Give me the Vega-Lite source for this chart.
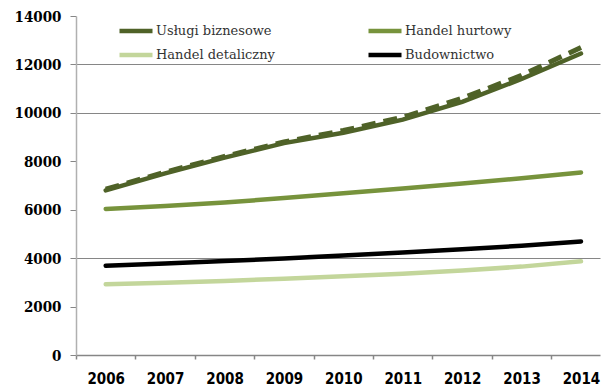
{
  "$schema": "https://vega.github.io/schema/vega-lite/v6.json",
  "width": 524,
  "height": 339,
  "autosize": {"type": "none"},
  "padding": {"left": 76, "top": 16, "right": 8, "bottom": 37},
  "background": "white",
  "config": {"view": {"stroke": null}},
  "data": {
    "values": [
      {"year": 2006, "series": "Usługi biznesowe", "value": 6800},
      {"year": 2007, "series": "Usługi biznesowe", "value": 7500},
      {"year": 2008, "series": "Usługi biznesowe", "value": 8150},
      {"year": 2009, "series": "Usługi biznesowe", "value": 8750},
      {"year": 2010, "series": "Usługi biznesowe", "value": 9180},
      {"year": 2011, "series": "Usługi biznesowe", "value": 9720},
      {"year": 2012, "series": "Usługi biznesowe", "value": 10450},
      {"year": 2013, "series": "Usługi biznesowe", "value": 11400},
      {"year": 2014, "series": "Usługi biznesowe", "value": 12450},
      {"year": 2006, "series": "Handel hurtowy", "value": 6030},
      {"year": 2007, "series": "Handel hurtowy", "value": 6150},
      {"year": 2008, "series": "Handel hurtowy", "value": 6300},
      {"year": 2009, "series": "Handel hurtowy", "value": 6480},
      {"year": 2010, "series": "Handel hurtowy", "value": 6680},
      {"year": 2011, "series": "Handel hurtowy", "value": 6880},
      {"year": 2012, "series": "Handel hurtowy", "value": 7080},
      {"year": 2013, "series": "Handel hurtowy", "value": 7300},
      {"year": 2014, "series": "Handel hurtowy", "value": 7540},
      {"year": 2006, "series": "Handel detaliczny", "value": 2920},
      {"year": 2007, "series": "Handel detaliczny", "value": 2980},
      {"year": 2008, "series": "Handel detaliczny", "value": 3060},
      {"year": 2009, "series": "Handel detaliczny", "value": 3150},
      {"year": 2010, "series": "Handel detaliczny", "value": 3250},
      {"year": 2011, "series": "Handel detaliczny", "value": 3360},
      {"year": 2012, "series": "Handel detaliczny", "value": 3490},
      {"year": 2013, "series": "Handel detaliczny", "value": 3650},
      {"year": 2014, "series": "Handel detaliczny", "value": 3870},
      {"year": 2006, "series": "Budownictwo", "value": 3690},
      {"year": 2007, "series": "Budownictwo", "value": 3780},
      {"year": 2008, "series": "Budownictwo", "value": 3880},
      {"year": 2009, "series": "Budownictwo", "value": 3990},
      {"year": 2010, "series": "Budownictwo", "value": 4110},
      {"year": 2011, "series": "Budownictwo", "value": 4230},
      {"year": 2012, "series": "Budownictwo", "value": 4370},
      {"year": 2013, "series": "Budownictwo", "value": 4510},
      {"year": 2014, "series": "Budownictwo", "value": 4690},
      {"year": 2006, "series": "trend", "value": 6850},
      {"year": 2007, "series": "trend", "value": 7550},
      {"year": 2008, "series": "trend", "value": 8200},
      {"year": 2009, "series": "trend", "value": 8800},
      {"year": 2010, "series": "trend", "value": 9270},
      {"year": 2011, "series": "trend", "value": 9820},
      {"year": 2012, "series": "trend", "value": 10600},
      {"year": 2013, "series": "trend", "value": 11550},
      {"year": 2014, "series": "trend", "value": 12700}
    ]
  },
  "encoding": {
    "x": {
      "field": "year",
      "type": "quantitative",
      "scale": {"domain": [2005.5, 2014.32], "nice": false, "zero": false},
      "axis": {
        "title": null,
        "values": [2005.5, 2006.5, 2007.5, 2008.5, 2009.5, 2010.5, 2011.5, 2012.5, 2013.5],
        "labelExpr": "toString(datum.value + 0.5)",
        "labelOffset": 29.7,
        "labelFlush": false,
        "labelOverlap": false,
        "labelFont": "DejaVu Sans Condensed",
        "labelFontWeight": "bold",
        "labelFontSize": 15,
        "labelColor": "#000000",
        "labelPadding": 12,
        "tickSize": 4,
        "tickColor": "#868686",
        "tickWidth": 1.5,
        "domainColor": "#868686",
        "domainWidth": 1.5,
        "grid": false
      }
    },
    "y": {
      "field": "value",
      "type": "quantitative",
      "scale": {"domain": [0, 14000], "nice": false},
      "axis": {
        "title": null,
        "values": [0, 2000, 4000, 6000, 8000, 10000, 12000, 14000],
        "format": "d",
        "labelFont": "DejaVu Serif Condensed",
        "labelFontWeight": "bold",
        "labelFontSize": 15,
        "labelColor": "#000000",
        "labelPadding": 9,
        "tickSize": 6,
        "tickColor": "#868686",
        "tickWidth": 1,
        "domainColor": "#b0b0b0",
        "domainWidth": 1.5,
        "grid": true,
        "gridColor": "#868686",
        "gridWidth": 1.2,
        "gridOpacity": {"condition": {"test": "datum.value == 4000 || (datum.value >= 10000 && datum.value < 14000)", "value": 1}, "value": 0}
      }
    }
  },
  "layer": [
    {
      "transform": [{"filter": "datum.series == 'trend'"}],
      "mark": {"type": "line", "strokeWidth": 5, "color": "#4F6228"},
      "encoding": {"strokeDash": {"value": [14, 8]}}
    },
    {
      "transform": [{"filter": "datum.series != 'trend'"}],
      "mark": {"type": "line", "strokeWidth": 4.5, "strokeCap": "round"},
      "encoding": {
        "color": {
          "field": "series",
          "type": "nominal",
          "scale": {
            "domain": ["Usługi biznesowe", "Handel hurtowy", "Handel detaliczny", "Budownictwo"],
            "range": ["#4F6228", "#77933C", "#C3D69B", "#000000"]
          },
          "legend": {
            "title": null,
            "orient": "none",
            "legendX": 41,
            "legendY": 7,
            "padding": 0,
            "direction": "horizontal",
            "columns": 2,
            "symbolType": "M-1,0H5",
            "symbolSize": 121,
            "symbolStrokeWidth": 4.5,
            "labelFont": "DejaVu Serif",
            "labelFontSize": 13,
            "labelColor": "#333333",
            "labelOffset": 23,
            "columnPadding": 84,
            "rowPadding": 6,
            "labelLimit": 300,
            "encode": {"symbols": {"update": {"strokeDash": {"value": []}}}}
          }
        }
      }
    }
  ]
}
